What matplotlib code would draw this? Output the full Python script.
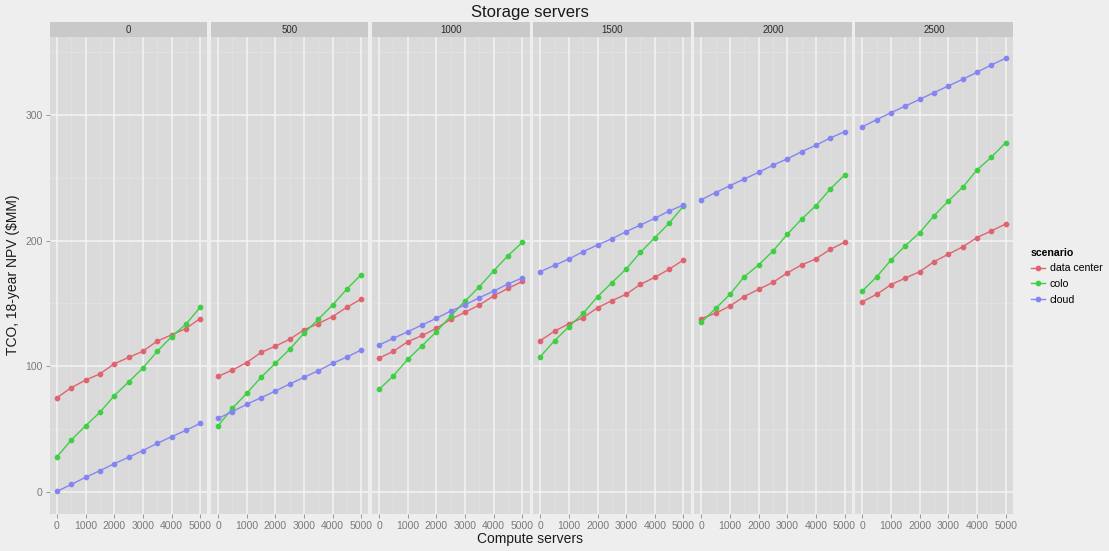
import matplotlib
matplotlib.use("Agg")
import matplotlib.pyplot as plt
from matplotlib.lines import Line2D

plt.rcParams['font.family'] = ['Liberation Sans', 'DejaVu Sans']

compute_servers = [0, 500, 1000, 1500, 2000, 2500, 3000, 3500, 4000, 4500, 5000]
storage_servers = [0, 500, 1000, 1500, 2000, 2500]
scenarios = ["data center", "colo", "cloud"]
x_ticks = [0, 1000, 2000, 3000, 4000, 5000]
y_ticks = [0, 100, 200, 300]

data_center = [
    [75, 83, 89, 94, 102, 107, 112, 120, 125, 130, 138],
    [92, 97, 103, 111, 116, 121.5, 129, 134, 139.5, 147, 153.5],
    [106.5, 112, 119.6, 124.5, 130.2, 137.4, 143, 148.8, 156, 162, 167.5],
    [120.4, 128, 133.8, 138.7, 146.6, 152.2, 157.3, 165.2, 170.8, 177.2, 184.6],
    [138, 142.2, 148, 155.5, 161.3, 166.7, 174.3, 180.6, 185.5, 193, 198.7],
    [151.4, 157.3, 165, 170.2, 175.3, 183.2, 189.2, 195, 202.4, 207.7, 213.2],
]
colo = [
    [28, 41.4, 52.7, 63.4, 76.6, 87.5, 98.6, 111.9, 123.5, 133.4, 146.9],
    [52.7, 66.6, 78.5, 91.2, 102.4, 113.5, 126.3, 137.4, 148.8, 161.5, 173],
    [81.7, 92.5, 105.6, 116.4, 127.5, 140, 151.9, 163.3, 176, 188, 198.6],
    [107.6, 120.4, 131.5, 142.2, 155.4, 166.5, 177.4, 190.7, 202.3, 213.8, 227.5],
    [135, 146, 157.3, 171.3, 180.6, 191.7, 205, 217, 227.8, 241, 252.2],
    [160, 171.3, 184.6, 196, 206.3, 219.8, 231.5, 242.4, 256.2, 266.3, 277.9],
]
cloud = [
    [0.5, 6, 11.7, 17, 22.5, 27.6, 33, 38.7, 44, 49, 54.6],
    [58.6, 63.9, 69.8, 75, 80.3, 85.9, 91.2, 96.5, 102.4, 107.4, 113],
    [117, 122.3, 127.5, 132.9, 138.2, 144, 148.8, 154.6, 159.8, 165.5, 170.3],
    [175.3, 180.3, 185.4, 191.2, 196.5, 201.5, 207.1, 212.4, 217.7, 223.5, 228.3],
    [232.6, 238.2, 243.7, 249, 254.3, 260, 265, 270.7, 275.8, 281.6, 286.6],
    [290.6, 296.2, 301.8, 307, 312.4, 317.7, 323, 328.3, 333.9, 339.7, 345],
]

colors = {"data center": "#df6470", "colo": "#3fcf45", "cloud": "#8585f2"}
series = {"data center": data_center, "colo": colo, "cloud": cloud}

W, H = 1109, 551
fig = plt.figure(figsize=(W / 100, H / 100), dpi=100)
fig.patch.set_facecolor("#eeeeee")

panel_bg = "#dadada"
strip_bg = "#c9c9c9"
grid_major = "#f2f2f2"
grid_minor = "#e2e2e2"
tick_col = "#8a8a8a"

left0 = 49.8
step = 161.1
pw = 157.5
pbot = H - 513.7
ph = 513.7 - 36.6
sh = 14.5

xmin, xmax = -250, 5250
ymin, ymax = -17.25, 362.25

for i, st in enumerate(storage_servers):
    lx = left0 + step * i
    ax = fig.add_axes([lx / W, pbot / H, pw / W, ph / H])
    ax.set_facecolor(panel_bg)
    ax.set_xlim(xmin, xmax)
    ax.set_ylim(ymin, ymax)
    for s in ax.spines.values():
        s.set_visible(False)
    for xv in [500, 1500, 2500, 3500, 4500]:
        ax.axvline(xv, color=grid_minor, lw=0.6, zorder=0.5)
    for yv in [50, 150, 250, 350]:
        ax.axhline(yv, color=grid_minor, lw=0.6, zorder=0.5)
    for xv in x_ticks:
        ax.axvline(xv, color=grid_major, lw=1.2, zorder=0.6)
    for yv in y_ticks:
        ax.axhline(yv, color=grid_major, lw=1.2, zorder=0.6)
    for sc in scenarios:
        ax.plot(compute_servers, series[sc][i], color=colors[sc], lw=1.0,
                marker="o", ms=3.1, mec=colors[sc], zorder=2)
    ax.set_xticks(x_ticks)
    ax.set_xticklabels([str(v) for v in x_ticks])
    ax.set_yticks(y_ticks)
    ax.tick_params(axis="x", colors=tick_col, labelsize=7.5, length=3, width=0.6, pad=2)
    ax.tick_params(axis="x", labelcolor="#7a7a7a")
    if i == 0:
        ax.tick_params(axis="y", colors=tick_col, labelsize=7.5, length=3, width=0.6, pad=2)
        ax.tick_params(axis="y", labelcolor="#7a7a7a")
    else:
        ax.tick_params(axis="y", left=False, labelleft=False)
    sax = fig.add_axes([lx / W, (pbot + ph) / H, pw / W, sh / H])
    sax.set_facecolor(strip_bg)
    sax.set_xticks([])
    sax.set_yticks([])
    for s in sax.spines.values():
        s.set_visible(False)
    sax.text(0.5, 0.45, str(st), ha="center", va="center", fontsize=7,
             color="#2a2a2a", transform=sax.transAxes)

fig.text(530 / W, 1 - 12 / H, "Storage servers", ha="center", va="center",
         fontsize=12, color="#1a1a1a")
fig.text(530 / W, 1 - 539 / H, "Compute servers", ha="center", va="center",
         fontsize=10, color="#1a1a1a")
fig.text(13 / W, 1 - 275 / H, "TCO, 18-year NPV ($MM)", ha="center", va="center",
         rotation=90, fontsize=10, color="#1a1a1a")

handles = [Line2D([0], [0], color=colors[sc], lw=1.0, marker="o", ms=3.1)
           for sc in scenarios]
leg = fig.legend(handles, scenarios, title="scenario", loc="upper left",
                 bbox_to_anchor=(1021 / W, 1 - 238 / H), frameon=False,
                 fontsize=7.6, title_fontsize=7.6, handlelength=1.4,
                 handletextpad=0.4, labelspacing=0.55)
leg.get_title().set_fontweight("bold")
leg._legend_box.align = "left"

fig.savefig("out.png", dpi=100, facecolor=fig.get_facecolor())
